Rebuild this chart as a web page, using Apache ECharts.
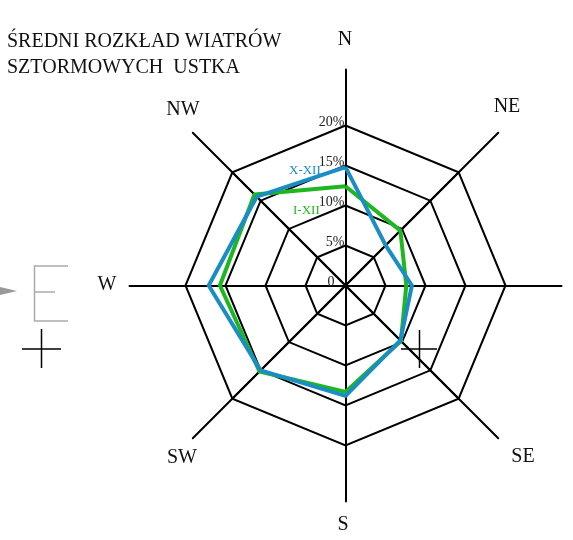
<!DOCTYPE html>
<html>
<head>
<meta charset="utf-8">
<script src="https://cdn.jsdelivr.net/npm/echarts@6/dist/echarts.min.js"></script>
<style>
html,body{margin:0;padding:0;background:#fff;}
#chart{width:573px;height:540px;}
</style>
</head>
<body>
<div id="chart"></div>
<script>
// Directions, clockwise from north
var directions = ['N', 'NE', 'E', 'SE', 'S', 'SW', 'W', 'NW'];
// Share of storm winds [%]
var seriesNames = ['I-XII', 'X-XII'];
var valuesAllYear = [12.4, 9.7, 7.6, 9.8, 13.3, 15.2, 15.7, 16.1];   // I-XII
var valuesAutumnWinter = [14.8, 7.1, 8.3, 9.7, 13.8, 15.0, 17.1, 15.7]; // X-XII
var scaleMax = 20;
var scaleStep = 5;
var titleText = 'ŚREDNI ROZKŁAD WIATRÓW\nSZTORMOWYCH  USTKA';

// ECharts radar goes counter-clockwise: N, NW, W, SW, S, SE, E, NE
var order = [0, 7, 6, 5, 4, 3, 2, 1];
function reorder(arr) { return order.map(function (i) { return arr[i]; }); }

var serif = '"Liberation Serif", "DejaVu Serif", serif';
var chart = echarts.init(document.getElementById('chart'), null, {renderer: 'canvas'});

var innerIndicators = reorder(directions).map(function (d, k) {
  return {name: '', max: scaleMax, min: 0, axisLabel: {show: k === 0}};
});
var outerIndicators = reorder(directions).map(function (d) {
  return {name: '', max: scaleMax, min: 0};
});

// placement of direction names around the rose (label layout, not data)
var namePos = {
  N: [345, 40], NE: [507, 107], SE: [523, 457], S: [343, 525],
  SW: [182, 458], W: [107, 285], NW: [183, 110]
};
var nameGraphics = directions.filter(function (d) { return namePos[d]; }).map(function (d) {
  return {type: 'text', x: namePos[d][0], y: namePos[d][1], z: 10,
    style: {text: d, fontFamily: serif, fontSize: 20, fill: '#111', align: 'center', verticalAlign: 'middle'}};
});

var option = {
  backgroundColor: '#fff',
  animation: false,
  title: {
    text: titleText,
    left: 2, top: 24,
    textStyle: {fontFamily: serif, fontSize: 20, fontWeight: 'normal', color: '#111', lineHeight: 26}
  },
  radar: [
    {
      center: [345.5, 285.5],
      radius: 160,
      startAngle: 90,
      splitNumber: scaleMax / scaleStep,
      shape: 'polygon',
      indicator: innerIndicators,
      axisName: {show: false},
      axisLine: {show: true, lineStyle: {color: '#000', width: 2}},
      splitLine: {lineStyle: {color: '#000', width: 2}},
      splitArea: {show: false},
      axisTick: {show: false},
      axisLabel: {
        show: true, margin: 1, showMinLabel: true, showMaxLabel: true,
        fontFamily: serif, fontSize: 14, color: '#222',
        padding: [0, 0, 7, 0],
        formatter: function (v) { return v === 0 ? '{z|0}' : v + '%'; },
        rich: {z: {fontFamily: serif, fontSize: 14, color: '#222', padding: [0, 10, 0, 0]}}
      }
    },
    {
      center: [345.5, 285.5],
      radius: 216,
      startAngle: 90,
      shape: 'polygon',
      indicator: outerIndicators,
      axisName: {show: false},
      axisLine: {show: true, lineStyle: {color: '#000', width: 2}},
      splitLine: {show: false},
      splitArea: {show: false},
      axisTick: {show: false},
      axisLabel: {show: false}
    }
  ],
  series: [
    {
      type: 'radar', radarIndex: 0, symbol: 'none', z: 3,
      lineStyle: {color: '#1fb71f', width: 4},
      data: [{name: seriesNames[0], value: reorder(valuesAllYear)}]
    },
    {
      type: 'radar', radarIndex: 0, symbol: 'none', z: 4,
      lineStyle: {color: '#1a8dc4', width: 4},
      data: [{name: seriesNames[1], value: reorder(valuesAutumnWinter)}]
    }
  ],
  graphic: nameGraphics.concat([
    {type: 'text', left: 289, top: 164, z: 10,
     style: {text: seriesNames[1], fontFamily: serif, fontSize: 13, fill: '#1a8dc4'}},
    {type: 'text', left: 293, top: 204, z: 10,
     style: {text: seriesNames[0], fontFamily: serif, fontSize: 13, fill: '#1fb71f'}},
    // grey leftover mark at left
    {type: 'polygon', shape: {points: [[0, 287], [17, 291], [0, 295]]}, style: {fill: '#999'}},
    {type: 'polyline', shape: {points: [[68, 266], [34.5, 266], [34.5, 321], [68, 321]]},
     style: {stroke: '#aaa', lineWidth: 1.5, fill: null}},
    {type: 'line', shape: {x1: 34.5, y1: 292, x2: 55, y2: 292}, style: {stroke: '#aaa', lineWidth: 1.5}},
    // crosses
    {type: 'line', shape: {x1: 41.5, y1: 329, x2: 41.5, y2: 368}, style: {stroke: '#000', lineWidth: 1.5}},
    {type: 'line', shape: {x1: 22, y1: 349, x2: 61, y2: 349}, style: {stroke: '#000', lineWidth: 1.5}},
    {type: 'line', shape: {x1: 419.5, y1: 330, x2: 419.5, y2: 368}, style: {stroke: '#000', lineWidth: 1.5}},
    {type: 'line', shape: {x1: 401, y1: 349, x2: 437, y2: 349}, style: {stroke: '#000', lineWidth: 1.5}}
  ])
};
chart.setOption(option);
</script>
</body>
</html>
